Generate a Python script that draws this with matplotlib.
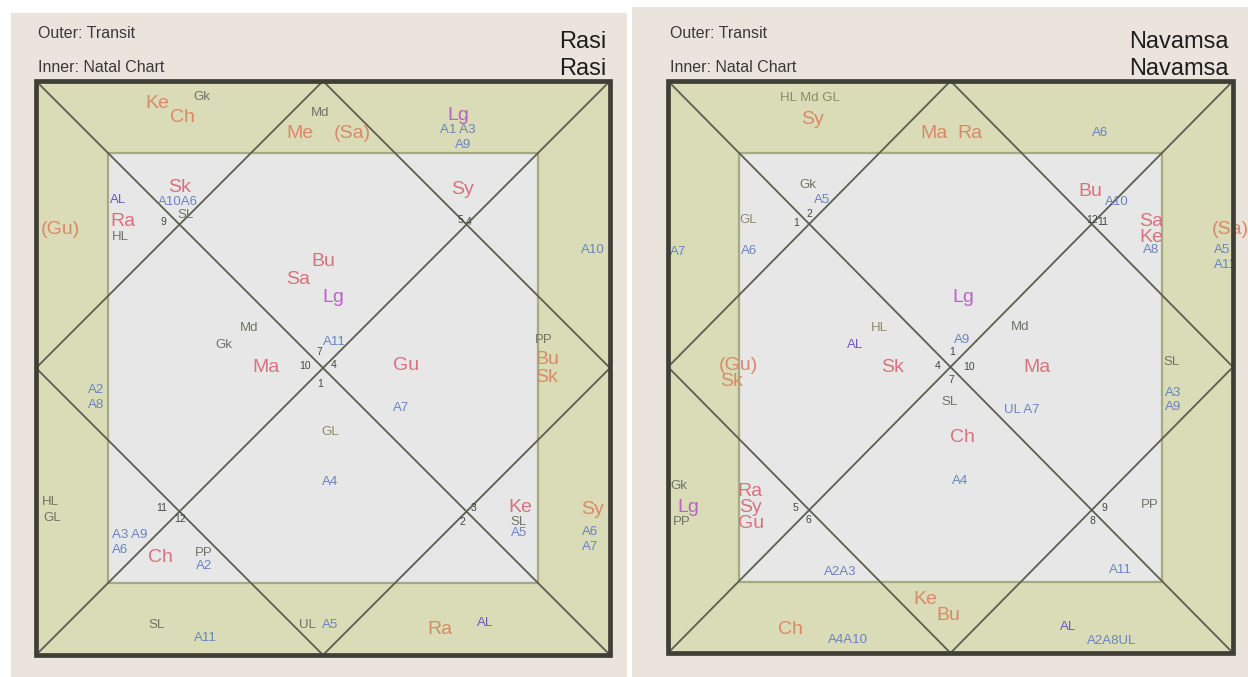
import matplotlib
matplotlib.use("Agg")
import matplotlib.pyplot as plt
from matplotlib.patches import Rectangle, Polygon

plt.rcParams['font.family'] = ['Liberation Sans', 'DejaVu Sans']

# ---------------- data ----------------
titles = ["Rasi", "Navamsa"]
legend_lines = ["Outer: Transit", "Inner: Natal Chart"]

# Rasi chart labels (kind codes: tp transit planet, np natal planet, lg lagna,
# al arudha lagna, ar arudha pada, sp special point, num house number)
rasi_labels = ["Ke", "Ch", "Gk", "Md", "Me", "(Sa)", "Lg", "A1 A3", "A9", "(Gu)",
               "A10", "PP", "Bu", "Sk", "A2", "A8", "HL", "GL", "Sy", "A6", "A7",
               "SL", "A11", "UL", "A5", "Ra", "AL",
               "AL", "Ra", "HL", "Sk", "A10A6", "SL", "9", "Sy", "5", "4",
               "Bu", "Sa", "Lg", "Md", "Gk", "Ma", "A11", "7", "10", "4", "1",
               "Gu", "A7", "GL", "A4", "11", "12", "A3 A9", "A6", "Ch", "PP", "A2",
               "3", "2", "Ke", "SL", "A5"]
rasi_kinds = ["tp", "tp", "sp", "sp", "tp", "tp", "lg", "ar", "ar", "tp",
              "ar", "sp", "tp", "tp", "ar", "ar", "sp", "sp", "tp", "ar", "ar",
              "sp", "ar", "sp", "ar", "tp", "al",
              "al", "np", "sp", "np", "ar", "sp", "num", "np", "num", "num",
              "np", "np", "lg", "sp", "sp", "np", "ar", "num", "num", "num", "num",
              "np", "ar", "gl", "ar", "num", "num", "ar", "ar", "np", "sp", "ar",
              "num", "num", "np", "sp", "ar"]

navamsa_labels = ["HL Md GL", "Sy", "Ma", "Ra", "A6", "A7", "(Sa)", "A5", "A11",
                  "(Gu)", "Sk", "SL", "A3", "A9", "Gk", "Lg", "PP", "Ch", "A4A10",
                  "Ke", "Bu", "AL", "A2A8UL",
                  "Gk", "A5", "1", "2", "GL", "A6", "Bu", "A10", "12", "11",
                  "Sa", "Ke", "A8", "Lg", "HL", "AL", "Sk", "A9", "1", "4", "10", "7",
                  "Md", "Ma", "SL", "UL A7", "Ch", "A4", "Ra", "Sy", "Gu", "5", "6",
                  "A2A3", "9", "8", "PP", "A11"]
navamsa_kinds = ["gl", "tp", "tp", "tp", "ar", "ar", "tp", "ar", "ar",
                 "tp", "tp", "sp", "ar", "ar", "sp", "lg", "sp", "tp", "ar",
                 "tp", "tp", "al", "ar",
                 "sp", "ar", "num", "num", "gl", "ar", "np", "ar", "num", "num",
                 "np", "np", "ar", "lg", "gl", "al", "np", "ar", "num", "num", "num", "num",
                 "sp", "np", "sp", "ar", "np", "ar", "np", "np", "np", "num", "num",
                 "ar", "num", "num", "sp", "ar"]

# ---------------- layout (pixel offsets from chart top-left) ----------------
rasi_pos = [(121, 23), (146, 37), (166, 16), (284, 32), (264, 52), (316, 52), (422, 34),
            (422, 49), (427, 64), (24, 149), (557, 169), (508, 259), (511, 279), (511, 296),
            (60, 309), (60, 324), (14, 421), (16, 437), (556, 429), (554, 451), (554, 466),
            (121, 544), (169, 557), (271, 544), (294, 544), (404, 549), (449, 542),
            (82, 119), (87, 141), (84, 156), (144, 106), (142, 121), (150, 134), (127, 141),
            (426, 109), (424, 139), (433, 141),
            (287, 181), (262, 199), (297, 216), (213, 247), (188, 264), (230, 286),
            (298, 261), (283, 271), (269, 285), (298, 284), (284, 303),
            (370, 285), (365, 327), (294, 351), (294, 401), (126, 427), (144, 438),
            (94, 454), (84, 469), (124, 477), (168, 472), (168, 485),
            (438, 427), (426, 441), (484, 427), (483, 441), (483, 452)]

navamsa_pos = [(142, 17), (144, 39), (266, 52), (302, 52), (432, 52), (10, 171),
               (562, 149), (554, 169), (557, 184), (70, 285), (64, 301), (504, 281),
               (505, 312), (505, 326), (11, 405), (20, 426), (14, 441), (122, 549),
               (180, 559), (257, 519), (280, 535), (400, 546), (444, 560),
               (140, 104), (154, 119), (128, 142), (141, 133), (80, 139), (81, 170),
               (422, 110), (449, 121), (424, 139), (435, 141), (483, 141), (483, 156),
               (483, 169), (295, 216), (211, 247), (187, 264), (225, 287), (294, 259),
               (284, 271), (270, 285), (301, 286), (283, 299), (352, 246), (369, 286),
               (282, 321), (354, 329), (294, 357), (292, 400), (82, 410), (82, 426),
               (83, 442), (127, 427), (140, 439), (172, 491), (436, 427), (424, 440),
               (482, 424), (452, 489)]

kind_style = {
    "tp": dict(color="#d88a68", fontsize=14),
    "np": dict(color="#d8727e", fontsize=14),
    "lg": dict(color="#b963c4", fontsize=14),
    "al": dict(color="#6e58bd", fontsize=9.5),
    "ar": dict(color="#6a84bf", fontsize=9.5),
    "sp": dict(color="#6f7466", fontsize=9.5),
    "gl": dict(color="#8c8c62", fontsize=9.5),
    "num": dict(color="#3e4a3e", fontsize=7.5),
}

charts = [
    dict(x0=36, y0=81, w=574, h=574, labels=rasi_labels, kinds=rasi_kinds,
         pos=rasi_pos, title=titles[0], panel=(11, 13, 616, 664)),
    dict(x0=668, y0=81, w=565, h=572, labels=navamsa_labels, kinds=navamsa_kinds,
         pos=navamsa_pos, title=titles[1], panel=(632, 7, 616, 670)),
]

W, H = 1248, 677
fig = plt.figure(figsize=(W / 100, H / 100), dpi=100)
fig.patch.set_facecolor("white")
ax = fig.add_axes([0, 0, 1, 1])
ax.set_xlim(0, W)
ax.set_ylim(H, 0)
ax.axis("off")

band = "#dadbb7"
inner = "#e7e7e8"
line_c = "#5b5f50"

for c in charts:
    px, py, pw, ph = c["panel"]
    ax.add_patch(Rectangle((px, py), pw, ph, facecolor="#ebe4dc", edgecolor="none", zorder=0))
    x0, y0, w, h = c["x0"], c["y0"], c["w"], c["h"]
    x1, y1 = x0 + w, y0 + h
    ix, iy = w / 8.0, h / 8.0
    ax.add_patch(Rectangle((x0, y0), w, h, facecolor=band, edgecolor="none", zorder=1))
    ax.add_patch(Rectangle((x0 + ix, y0 + iy), w - 2 * ix, h - 2 * iy,
                           facecolor=inner, edgecolor="#a6aa82", lw=1.6, zorder=2))
    # diagonals
    ax.plot([x0, x1], [y0, y1], color=line_c, lw=1.3, zorder=3)
    ax.plot([x0, x1], [y1, y0], color=line_c, lw=1.3, zorder=3)
    # diamond
    mx, my = x0 + w / 2, y0 + h / 2
    ax.add_patch(Polygon([(mx, y0), (x1, my), (mx, y1), (x0, my)], closed=True,
                         fill=False, edgecolor=line_c, lw=1.3, zorder=3))
    # outer frame
    ax.add_patch(Rectangle((x0, y0), w, h, fill=False, edgecolor="#3f3f36", lw=3.4, zorder=6))

    # header
    ax.text(x0 + 2, y0 - 48, legend_lines[0], fontsize=11.5, color="#3a3a3a",
            ha="left", va="center", zorder=7)
    ax.text(x0 + 2, y0 - 14, legend_lines[1], fontsize=11.5, color="#3a3a3a",
            ha="left", va="center", zorder=7)
    ax.text(x1 - 4, y0 - 39, c["title"], fontsize=17, color="#1e1e1e",
            ha="right", va="center", zorder=7)
    ax.text(x1 - 4, y0 - 12, c["title"], fontsize=17, color="#1e1e1e",
            ha="right", va="center", zorder=7)

    for lab, kind, (dx, dy) in zip(c["labels"], c["kinds"], c["pos"]):
        st = kind_style[kind]
        ax.text(x0 + dx, y0 + dy, lab, ha="center", va="center", zorder=5,
                color=st["color"], fontsize=st["fontsize"])

fig.savefig("out.png", dpi=100, facecolor=fig.get_facecolor())
